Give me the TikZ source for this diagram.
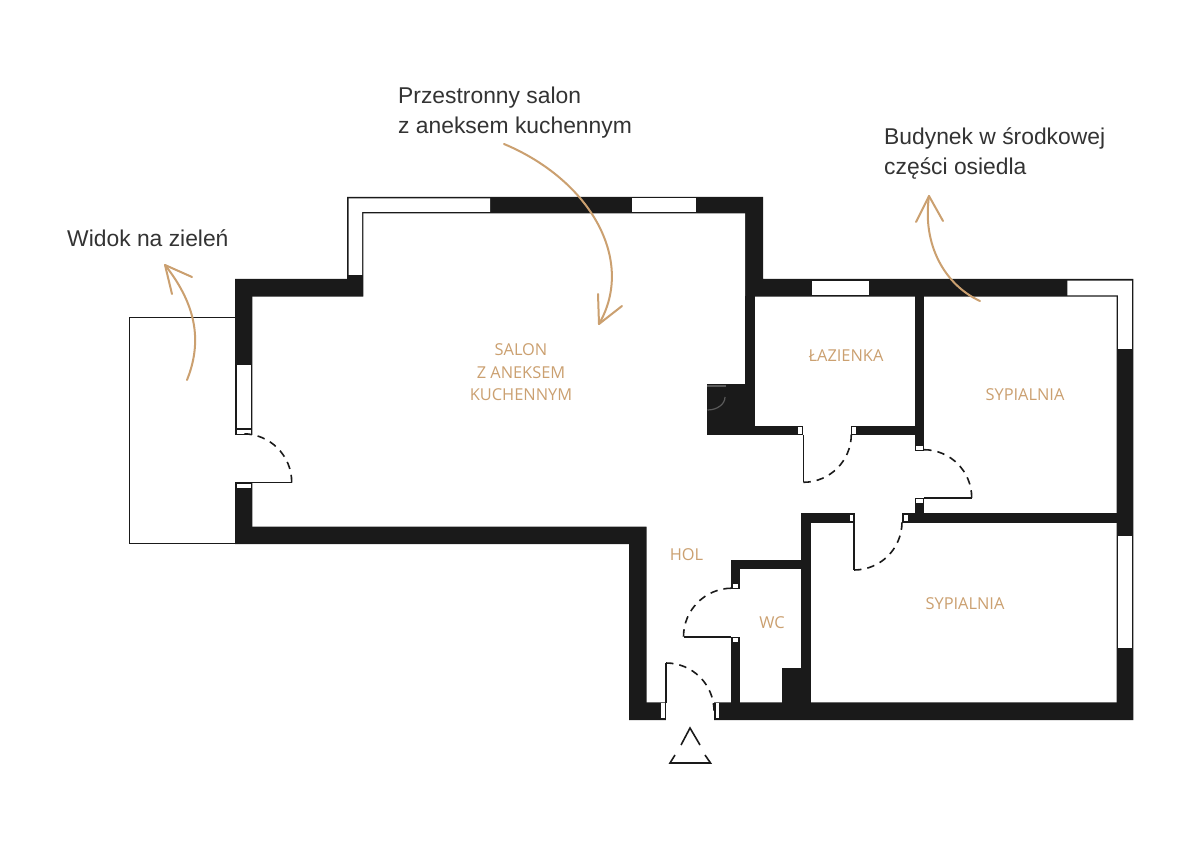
\documentclass[tikz,border=0pt]{standalone}
\usepackage{fontspec}
\setmainfont{Liberation Sans}
\newfontfamily\roomfont{Open Sans}
\definecolor{wallc}{HTML}{1A1A1A}
\definecolor{tanc}{HTML}{CBA070}
\definecolor{labelc}{HTML}{333333}
\definecolor{faintc}{HTML}{5A5A5A}
\tikzset{
  x=1pt,y=-1pt,
  wall/.style={fill=wallc,draw=none},
  glass/.style={fill=white,draw=none},
  thinline/.style={draw=wallc,line width=1.4pt},
  swing/.style={draw=wallc,line width=1.6pt,dash pattern=on 7.5pt off 6pt},
  leaf/.style={draw=wallc,line width=1.6pt},
  curve/.style={draw=tanc,line width=2pt,line cap=round,line join=round},
  roomlabel/.style={text=tanc,font=\roomfont\fontsize{16.4}{22.5}\selectfont,align=center,inner sep=0pt},
  note/.style={text=labelc,font=\fontsize{22.85}{30}\selectfont,align=left,inner sep=0pt,anchor=west},
}
\begin{document}
\begin{tikzpicture}
\useasboundingbox (0,0) rectangle (1200,850);
\fill[white] (0,0) rectangle (1200,850);
% balcony
\draw[thinline] (235,317.7) -- (129.5,317.7) -- (129.5,543.5) -- (235,543.5);
% outer mass
\fill[wall] (235,279) -- (347,279) -- (347,197) -- (763,197) -- (763,279) -- (1133.3,279) -- (1133.3,720) -- (629,720) -- (629,544) -- (235,544) -- cycle;
% interior
\fill[white] (252.3,296.7) -- (363.3,296.7) -- (363.3,213.3) -- (745,213.3) -- (745,296.7) -- (1116.7,296.7) -- (1116.7,702.3) -- (646.7,702.3) -- (646.7,526.7) -- (252.3,526.7) -- cycle;
% partitions
\fill[wall] (745,296) rectangle (755,435);
\fill[wall] (707.3,384.3) rectangle (755,435);
\fill[wall] (755,425.7) rectangle (803.3,435);
\fill[wall] (850.7,425.7) rectangle (915,435);
\fill[wall] (915,296) rectangle (924,450.7);
\fill[wall] (915,497.7) rectangle (924,514);
\fill[wall] (902.3,513.3) rectangle (1117,522.7);
\fill[wall] (801,513.3) rectangle (854.5,522.7);
\fill[wall] (801,513.3) rectangle (810.7,703);
\fill[wall] (730.7,560.3) rectangle (802,569.3);
\fill[wall] (730.7,560.3) rectangle (740,589.3);
\fill[wall] (730.7,636.7) rectangle (740,703);
\fill[wall] (782.3,668.3) rectangle (802,703);
% openings
\fill[white] (234,435) rectangle (253,482.3);
\fill[white] (666,701) rectangle (714.3,721);
% windows
\fill[glass] (348.5,198.5) -- (490,198.5) -- (490,212) -- (362,212) -- (362,275) -- (348.5,275) -- cycle;
\fill[glass] (631.7,198.5) rectangle (695.7,212);
\fill[glass] (811.7,280.7) rectangle (869,295.5);
\fill[glass] (1067.3,280.7) -- (1131.8,280.7) -- (1131.8,349) -- (1118,349) -- (1118,295.5) -- (1067.3,295.5) -- cycle;
\fill[glass] (1118,536) rectangle (1131.8,647.7);
\fill[glass] (236.7,365.3) rectangle (251,428.3);
% jambs
\fill[glass] (236.7,429.7) rectangle (251,433.7);
\fill[glass] (236.7,483.5) rectangle (251,487.7);
\fill[glass] (661.3,702.5) rectangle (665,718.3);
\fill[glass] (715.7,702.5) rectangle (719.3,718.3);
\fill[glass] (732.5,584.3) rectangle (738.3,588);
\fill[glass] (732.5,638) rectangle (738.3,642.3);
\fill[glass] (798.3,427) rectangle (802.2,433.8);
\fill[glass] (851.8,427) rectangle (855.6,433.8);
\fill[glass] (849.5,514.6) rectangle (853.4,521.4);
\fill[glass] (903.5,514.6) rectangle (907.5,521.4);
\fill[glass] (916.3,445.7) rectangle (922.7,449.6);
\fill[glass] (916.3,499) rectangle (922.7,503.2);
% faint marks in the shaft
\draw[faintc,line width=1.2pt] (707.3,386) -- (726,386);
\draw[faintc,line width=1.2pt] (725,397) arc[start angle=0,end angle=90,x radius=17.5,y radius=13];
% door leaves
\draw[leaf] (235,482.3) -- (291.7,482.3);
\draw[leaf] (666,703) -- (666,663);
\draw[leaf] (731,636.7) -- (683.5,636.7);
\draw[leaf] (803.3,435) -- (803.3,482.3);
\draw[leaf] (854,522) -- (854,570);
\draw[leaf] (924,497.7) -- (971.7,497.7);
% door swings
\draw[swing] (291.7,482.3) arc[start angle=0,end angle=-90,radius=48.5];
\draw[swing] (666,663) arc[start angle=-90,end angle=0,radius=48];
\draw[swing] (683.5,636.7) arc[start angle=180,end angle=270,radius=48.5];
\draw[swing] (803.3,482.3) arc[start angle=90,end angle=0,radius=48];
\draw[swing] (854,570) arc[start angle=90,end angle=0,radius=48];
\draw[swing] (971.7,497.7) arc[start angle=0,end angle=-90,radius=48];
% entrance triangle
\draw[thinline,line width=1.6pt] (681,745) -- (690,728) -- (700,745);
\draw[thinline,line width=1.6pt] (675,755) -- (670,763) -- (710.5,763) -- (705,755);
% curved arrows
\draw[curve] (187,380) .. controls (201,345) and (199,308) .. (165,265);
\draw[curve] (172,294) -- (165,265) -- (192,277);
\draw[curve] (504,144) .. controls (590,180) and (636,260) .. (599,324);
\draw[curve] (598,294) -- (599,324) -- (622,306);
\draw[curve] (980,301) .. controls (945,285) and (922,245) .. (929,196);
\draw[curve] (916,222) -- (929,196) -- (943,221);
% labels
\node[note] (n1) at (398,113) {Przestronny salon\\z aneksem kuchennym};
\node[note] (n2) at (884,153.5) {Budynek w środkowej\\części osiedla};
\node[note] (n3) at (67,238) {Widok na zieleń};
\node[roomlabel] (r1) at (521,372.5) {SALON\\Z ANEKSEM\\KUCHENNYM};
\node[roomlabel] (r2) at (846,356) {ŁAZIENKA};
\node[roomlabel] (r3) at (1025,395) {SYPIALNIA};
\node[roomlabel] (r4) at (965,604) {SYPIALNIA};
\node[roomlabel] (r5) at (686.5,555) {HOL};
\node[roomlabel] (r6) at (772,623) {WC};
\end{tikzpicture}
\end{document}
